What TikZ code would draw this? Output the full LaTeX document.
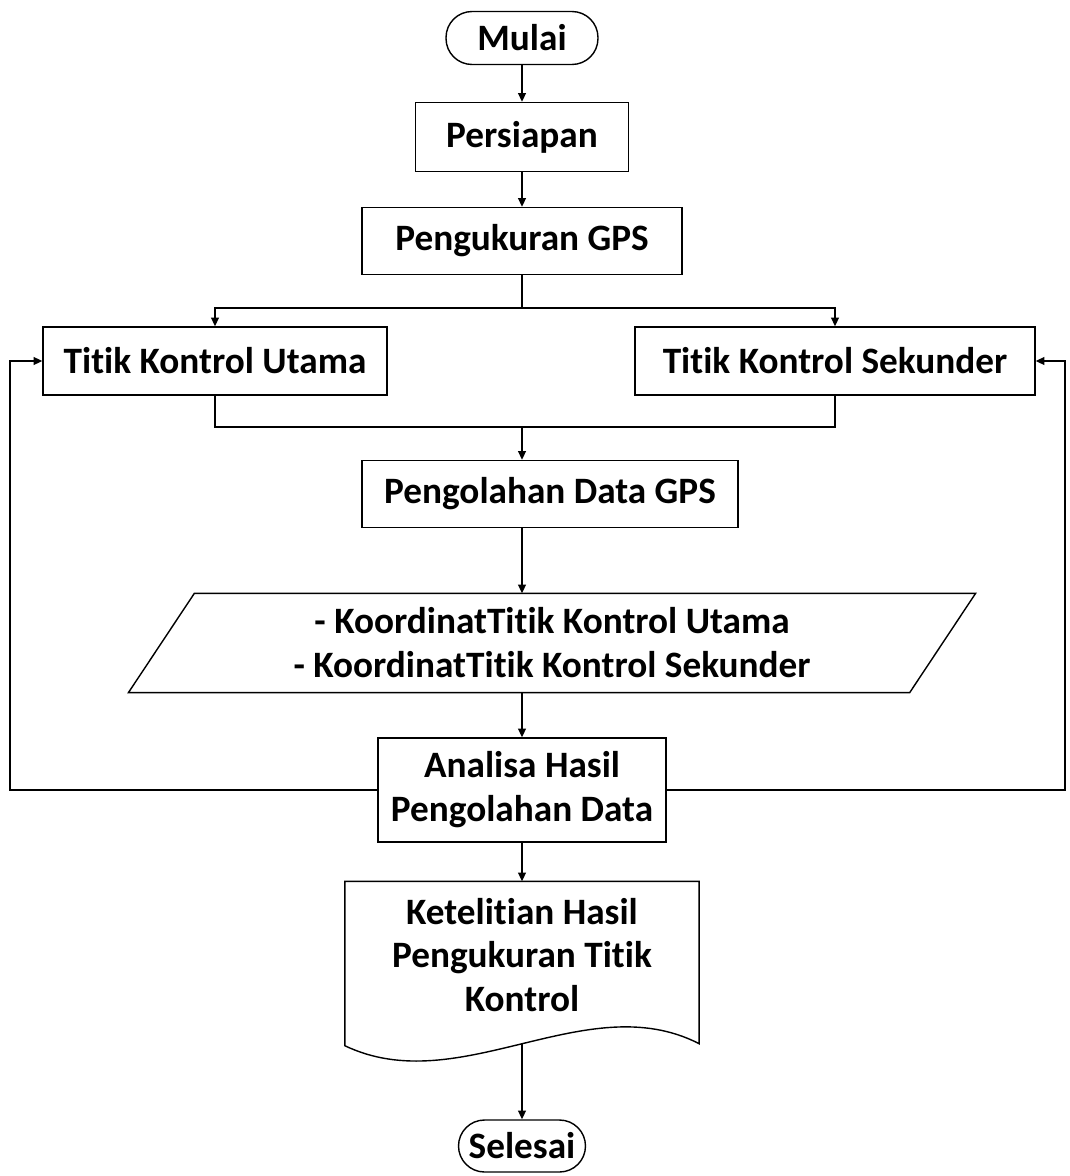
\documentclass[tikz,border=0pt]{standalone}
\usepackage{fontspec}
\setmainfont{Carlito}[Ligatures={NoCommon,NoContextual}]
\usetikzlibrary{arrows.meta,calc}
\tikzset{
    box/.style={draw, line width=0.8pt, inner sep=4pt, align=center,
                font=\bfseries\fontsize{21.2}{25}\selectfont},
    terminal/.style={box, rounded corners=0.52cm},
    plain/.style={box, draw=none},
    flow/.style={-{Triangle[length=5pt,width=4.5pt]}, line width=0.8pt},
    link/.style={line width=0.8pt},
}

\begin{document}
\begin{tikzpicture}[x=0.02cm, y=-0.02cm]

    \useasboundingbox (0,0) rectangle (1070,1176);

    \node[terminal, minimum width=3.04cm, minimum height=1.06cm] (mulai) at (522,38) {Mulai};
    \node[box, minimum width=4.26cm, minimum height=1.38cm] (persiapan) at (522,137) {Persiapan};
    \node[box, minimum width=6.4cm, minimum height=1.34cm] (gps) at (522,241) {Pengukuran GPS};
    \node[box, minimum width=6.88cm, minimum height=1.36cm] (utama) at (215,361) {Titik Kontrol Utama};
    \node[box, minimum width=8cm, minimum height=1.36cm] (sekunder) at (835,361) {Titik Kontrol Sekunder};
    \node[box, minimum width=7.52cm, minimum height=1.34cm] (olah) at (550,494) {Pengolahan Data GPS};
    \node[plain, minimum width=15.6cm, minimum height=1.96cm] (koord) at (552,643)
        {- KoordinatTitik Kontrol Utama\\- KoordinatTitik Kontrol Sekunder};
    \node[box, minimum width=5.76cm, minimum height=2.08cm] (analisa) at (522,790) {Analisa Hasil\\Pengolahan Data};
    \node[plain, minimum width=7.06cm, minimum height=2.92cm] (hasil) at (522,955)
        {Ketelitian Hasil\\Pengukuran Titik\\Kontrol};
    \node[terminal, minimum width=2.54cm, minimum height=1.04cm] (selesai) at (522,1146) {Selesai};

    % parallelogram and document outlines
    \draw[link] ($(koord.north west)+(33,0)$) -- ($(koord.north east)+(33,0)$)
        -- ($(koord.south east)+(-33,0)$) -- ($(koord.south west)+(-33,0)$) -- cycle;
    \draw[link] (hasil.north west) -- (hasil.north east) -- ($(hasil.south east)+(0,15)$)
        .. controls ($(hasil.south east)+(-113,-43)$) and ($(hasil.south west)+(115,72)$)
        .. ($(hasil.south west)+(0,17)$) -- cycle;

    \coordinate (split) at (522,308);
    \coordinate (merge) at (522,427);
    \coordinate (lbus) at (10,361);
    \coordinate (rbus) at (1065,361);
    \coordinate (wave) at ($(hasil.south)+(0,15)$);

    \draw[flow] (mulai) -- (persiapan);
    \draw[flow] (persiapan) -- (gps);
    \draw[link] (gps) -- (split);
    \draw[flow] (split) -| (utama);
    \draw[flow] (split) -| (sekunder);
    \draw[link] (utama) |- (merge);
    \draw[link] (sekunder) |- (merge);
    \draw[flow] (merge) -- (olah.north -| merge);
    \draw[flow] (olah.south -| merge) -- (koord.north -| merge);
    \draw[flow] (koord.south -| merge) -- (analisa);
    \draw[flow] (analisa) -- (hasil);
    \draw[flow] (wave) -- (selesai);
    \draw[flow] (analisa) -| (lbus) -- (utama);
    \draw[flow] (analisa) -| (rbus) -- (sekunder);

\end{tikzpicture}
\end{document}
